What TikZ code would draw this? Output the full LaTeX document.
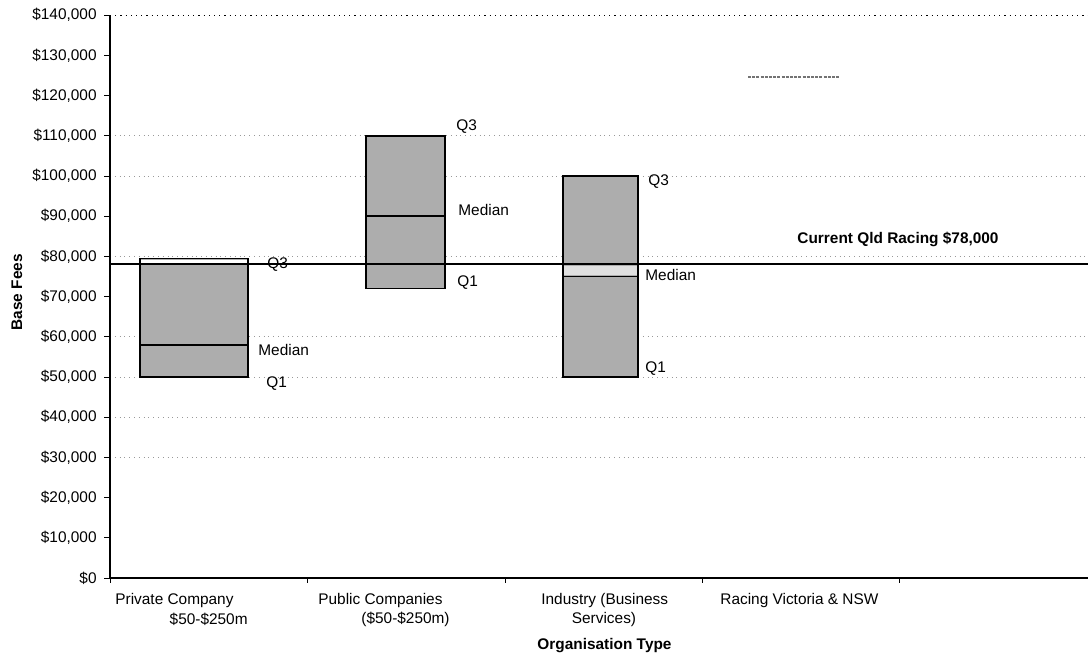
\documentclass[tikz,border=0pt]{standalone}
\usepackage{fontspec}
\setmainfont{Liberation Sans}
\usetikzlibrary{positioning}

\tikzset{
  lbl/.style={font=\fontsize{7.7}{9}\selectfont, inner sep=0pt},
  ttl/.style={font=\fontsize{7.7}{9}\selectfont\bfseries, inner sep=0pt},
  gridline/.style={black!40, dotted, line width=0.4pt},
  quart/.style={draw=black, line width=0.9pt, fill=black!32},
  axisline/.style={line width=1pt},
}

\begin{document}
\begin{tikzpicture}[x=0.5pt, y=2.01pt]
	\useasboundingbox (-110,-19.65) rectangle (978,143.78);

	% grid
	\foreach \v in {30,40,50,60,80,100,110}
		\draw[gridline] (0,\v) -- (978,\v);
	\draw[dotted, line width=0.6pt] (0,140) -- (978,140);

	% Private Company
	\draw[quart] (30,50) rectangle (138,79.5);
	\fill[white] (31,78) rectangle (137,79.1);
	\draw[line width=0.9pt] (30,58) -- (138,58);
	% Public Companies
	\draw[quart] (256,72) rectangle (335,110);
	\draw[line width=0.9pt] (256,90) -- (335,90);
	% Industry
	\draw[quart] (453,50) rectangle (528,100);
	\fill[black!12] (454,75.3) rectangle (527,77.7);
	\draw[line width=0.9pt] (453,75) -- (528,75);
	% Racing Victoria & NSW
	\draw[black!55, line width=1pt, dash pattern=on 1.5pt off 0.6pt] (638,124.6) -- (730,124.6);

	% Current Qld Racing
	\draw[line width=1pt] (0,78) -- (978,78);
	\node[ttl] (qld) at (788,84.1) {Current Qld Racing \$78,000};

	% box labels
	\node[lbl, anchor=west] (pq3) at (157,77.9) {Q3};
	\node[lbl, anchor=west] (pmed) at (148,56.7) {Median};
	\node[lbl, anchor=west] (pq1) at (156,48.4) {Q1};
	\node[lbl, anchor=west] (uq3) at (346,112.2) {Q3};
	\node[lbl, anchor=west] (umed) at (348,91.5) {Median};
	\node[lbl, anchor=west] (uq1) at (347,73.4) {Q1};
	\node[lbl, anchor=west] (iq3) at (538,98.5) {Q3};
	\node[lbl, anchor=west] (imed) at (535,75.4) {Median};
	\node[lbl, anchor=west] (iq1) at (535,52.2) {Q1};

	% axis
	\draw[axisline] (0,0) -- (0,140);
	\draw[axisline] (0,0) -- (978,0);
	\draw (-6,0) -- (0,0);
	\node[lbl, anchor=east] (y0) at (-13,0) {\$0};
	\foreach \v in {1,...,14} {
		\draw (-6,\v*10) -- (0,\v*10);
		\node[lbl, anchor=east] (y\v) at (-13,\v*10) {\$\v0,000};
	}
	\foreach \x in {0,197,395,592,789}
		\draw (\x,0) -- (\x,-1.3);

	% categories
	\node[lbl, anchor=west] (c1a) at (5,-5.7) {Private Company};
	\node[lbl, anchor=east] (c1b) at (138,-10.4) {\$50-\$250m};
	\node[lbl, anchor=west] (c2a) at (208,-5.7) {Public Companies};
	\node[lbl, anchor=east] (c2b) at (340,-10.4) {(\$50-\$250m)};
	\node[lbl, anchor=west] (c3a) at (431,-5.7) {Industry (Business};
	\node[lbl] (c3b) at (494,-10.4) {Services)};
	\node[lbl, anchor=west] (c4a) at (610,-5.7) {Racing Victoria \& NSW};

	% titles
	\node[ttl] (xtitle) at (494.5,-16.7) {Organisation Type};
	\node[ttl, rotate=90] (ytitle) at (-93,71.1) {Base Fees};

\end{tikzpicture}
\end{document}
